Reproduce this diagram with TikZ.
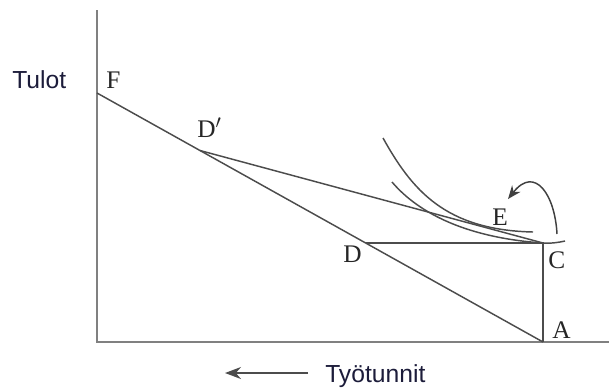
\documentclass[tikz,border=0pt]{standalone}
\usepackage{fontspec}
\setmainfont{Liberation Serif}
\newfontfamily\axisfont{Liberation Sans}
\usetikzlibrary{arrows.meta}
\definecolor{inkblue}{RGB}{28,28,58}

\begin{document}
\begin{tikzpicture}[
  x=0.75pt, y=-0.75pt,
  ptlbl/.style = {font=\fontsize{19}{21}\selectfont, text=black!85, inner sep=0pt, anchor=base west},
  axlbl/.style = {font=\axisfont\fontsize{18.5}{21}\selectfont, text=inkblue, inner sep=0pt, anchor=base west},
  axis/.style  = {draw=black!50, line width=1.4pt},
  ln/.style    = {draw=black!70, line width=1.1pt},
  arr/.style   = {-{Stealth[length=10pt, width=8pt]}, draw=black!75, line width=1.1pt},
  harr/.style  = {-{Stealth[length=12pt, width=9pt]}, draw=black!70, line width=1.5pt}
]
  \useasboundingbox (0,0) rectangle (609,387);

  % points
  \coordinate (O)  at (97,342);
  \coordinate (yt) at (97,10);
  \coordinate (xe) at (609,342);
  \coordinate (F)  at (97,93);
  \coordinate (Dp) at (200,150.5);
  \coordinate (D)  at (366,243);
  \coordinate (C)  at (543,243);
  \coordinate (A)  at (543,342);

  % axes
  \draw[axis] (yt) -- (O) -- (xe);

  % lines
  \draw[ln] (F) -- (A);
  \draw[ln] (Dp) -- (C);
  \draw[ln] (D) -- (C) -- (A);

  % indifference curves
  \draw[ln] (383,138) .. controls (412,190) and (445,230) .. (533,232);
  \draw[ln] (392,182) .. controls (420,215) and (470,238) .. (C)
            .. controls (552,243.5) and (558,242.5) .. (565,241);

  % labels
  \node[ptlbl] (lF)  at (106,88)  {F};
  \node[ptlbl] (lDp) at (197,137) {D$'$};
  \node[ptlbl] (lD)  at (343,262) {D};
  \node[ptlbl] (lE)  at (492,225) {E};
  \node[ptlbl] (lC)  at (548,268) {C};
  \node[ptlbl] (lA)  at (552,338) {A};

  \node[axlbl] (tulot) at (12,88)  {Tulot};
  \node[axlbl] (tyo)   at (325,382) {Työtunnit};

  % arrows
  \coordinate (cs) at (557,234);
  \coordinate (et) at (508,199);
  \draw[arr] (cs) .. controls (555,195) and (535,165) .. (et);
  \coordinate (ht) at (225,373);
  \draw[harr] ([xshift=-12.75pt]tyo.west |- ht) -- (ht);
\end{tikzpicture}
\end{document}
